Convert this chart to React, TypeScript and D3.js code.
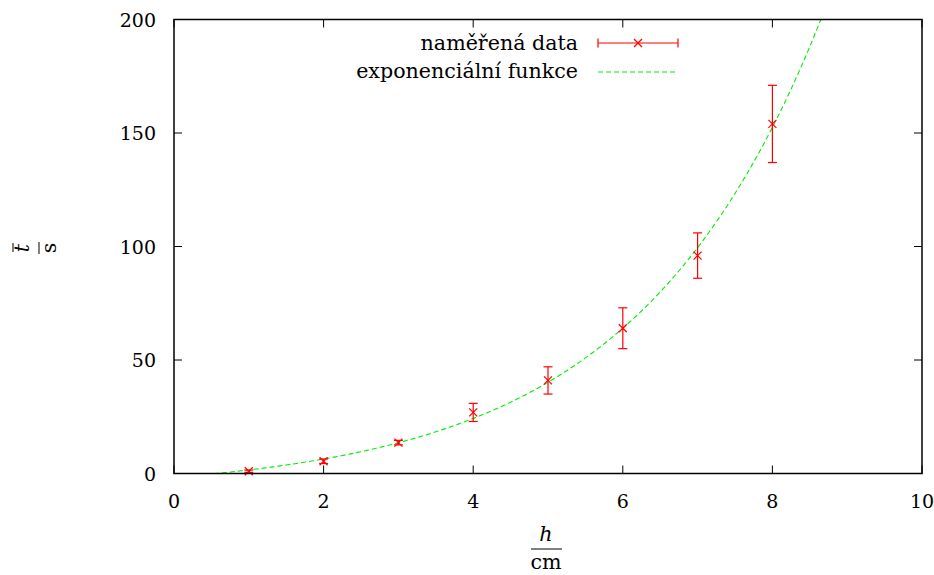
import React from "react";
import * as d3 from "d3";

const hValues = [1, 2, 3, 4, 5, 6, 7, 8];
const tValues = [1.0, 5.4, 13.6, 26.9, 41.0, 64.0, 96.0, 154.0];
const tErrors = [0.5, 1.0, 1.0, 4.0, 6.0, 9.0, 10.0, 17.0];
const xTicks = [0, 2, 4, 6, 8, 10];
const yTicks = [0, 50, 100, 150, 200];
const legendLabels = ["naměřená data", "exponenciální funkce"];
// fitted exponential t = A*exp(B*h) + C
const FIT_A = 6.55;
const FIT_B = 0.4;
const FIT_C = -8.2;

const W = 934;
const H = 575;
const L = 174, R = 922, T = 19.5, B = 473.5;
const FONT = "DejaVu Serif";
const FS = 19;
const FS_LEG = 20.6;
const RED = "#ff0000";
const GREEN = "#00ee00";

export default function App() {
  const x = d3.scaleLinear().domain([0, 10]).range([L, R]);
  const y = d3.scaleLinear().domain([0, 200]).range([B, T]);
  const fx = d3.range(0, 10.0001, 0.02);
  const line = d3
    .line<number>()
    .x((d) => x(d))
    .y((d) => y(FIT_A * Math.exp(FIT_B * d) + FIT_C));
  const tick = 8;
  const cap = 4.5;
  const mk = 4;
  const cross = (cx: number, cy: number, key: string) => (
    <g key={key} stroke={RED} strokeWidth={1.2}>
      <line x1={cx - mk} y1={cy - mk} x2={cx + mk} y2={cy + mk} />
      <line x1={cx - mk} y1={cy + mk} x2={cx + mk} y2={cy - mk} />
    </g>
  );
  return (
    <svg
      width={W}
      height={H}
      style={{ position: "absolute", left: 0, top: 0, display: "block", background: "#fff" }}
    >
      <defs>
        <clipPath id="plotclip">
          <rect x={L} y={T} width={R - L} height={B - T} />
        </clipPath>
      </defs>
      {/* ticks */}
      <g stroke="#000" strokeWidth={1}>
        {xTicks.map((t) => (
          <g key={"xt" + t}>
            <line x1={x(t)} x2={x(t)} y1={B} y2={B - tick} />
            <line x1={x(t)} x2={x(t)} y1={T} y2={T + tick} />
          </g>
        ))}
        {yTicks.map((t) => (
          <g key={"yt" + t}>
            <line x1={L} x2={L + tick} y1={y(t)} y2={y(t)} />
            <line x1={R} x2={R - tick} y1={y(t)} y2={y(t)} />
          </g>
        ))}
      </g>
      {/* tick labels */}
      <g fontFamily={FONT} fontSize={FS} fill="#000">
        {xTicks.map((t) => (
          <text key={"xl" + t} x={x(t)} y={508} textAnchor="middle">
            {t}
          </text>
        ))}
        {yTicks.map((t) => (
          <text key={"yl" + t} x={156} y={y(t) + 7} textAnchor="end">
            {t}
          </text>
        ))}
      </g>
      {/* fit curve */}
      <g clipPath="url(#plotclip)">
        <path
          d={line(fx) || ""}
          fill="none"
          stroke={GREEN}
          strokeWidth={1.1}
          strokeDasharray="5,3"
        />
      </g>
      {/* error bars */}
      <g stroke={RED} strokeWidth={1.2}>
        {hValues.map((h, i) => {
          const cx = x(h);
          const y1 = y(tValues[i] + tErrors[i]);
          const y0 = y(tValues[i] - tErrors[i]);
          return (
            <g key={"eb" + i}>
              <line x1={cx} x2={cx} y1={y0} y2={y1} />
              <line x1={cx - cap} x2={cx + cap} y1={y1} y2={y1} />
              <line x1={cx - cap} x2={cx + cap} y1={y0} y2={y0} />
            </g>
          );
        })}
      </g>
      {hValues.map((h, i) => cross(x(h), y(tValues[i]), "m" + i))}
      {/* frame */}
      <rect x={L} y={T} width={R - L} height={B - T} fill="none" stroke="#000" strokeWidth={1.5} />
      {/* legend */}
      <g fontFamily={FONT} fontSize={FS_LEG} fill="#000">
        <text x={578} y={50} textAnchor="end">{legendLabels[0]}</text>
        <text x={578} y={78} textAnchor="end">{legendLabels[1]}</text>
      </g>
      <g stroke={RED} strokeWidth={1.2}>
        <line x1={598} x2={678} y1={43} y2={43} />
        <line x1={598} x2={598} y1={43 - cap} y2={43 + cap} />
        <line x1={678} x2={678} y1={43 - cap} y2={43 + cap} />
      </g>
      {cross(638, 43, "legm")}
      <line x1={598} x2={678} y1={72} y2={72} stroke={GREEN} strokeWidth={1.1} strokeDasharray="5,3" />
      {/* x axis label */}
      <g fontFamily={FONT} fontSize={FS_LEG} fill="#000">
        <text x={546} y={541} textAnchor="middle" fontStyle="italic">h</text>
        <line x1={531} x2={562} y1={549} y2={549} stroke="#000" strokeWidth={1} />
        <text x={546} y={569} textAnchor="middle">cm</text>
      </g>
      {/* y axis label */}
      <g transform="translate(39,248) rotate(-90)" fontFamily={FONT} fontSize={FS_LEG} fill="#000">
        <text x={0} y={-10} textAnchor="middle" fontStyle="italic">t</text>
        <line x1={-4} x2={5} y1={-26} y2={-26} stroke="#000" strokeWidth={1} />
        <line x1={-6} x2={6} y1={0} y2={0} stroke="#000" strokeWidth={1} />
        <text x={0} y={17} textAnchor="middle">s</text>
      </g>
    </svg>
  );
}
